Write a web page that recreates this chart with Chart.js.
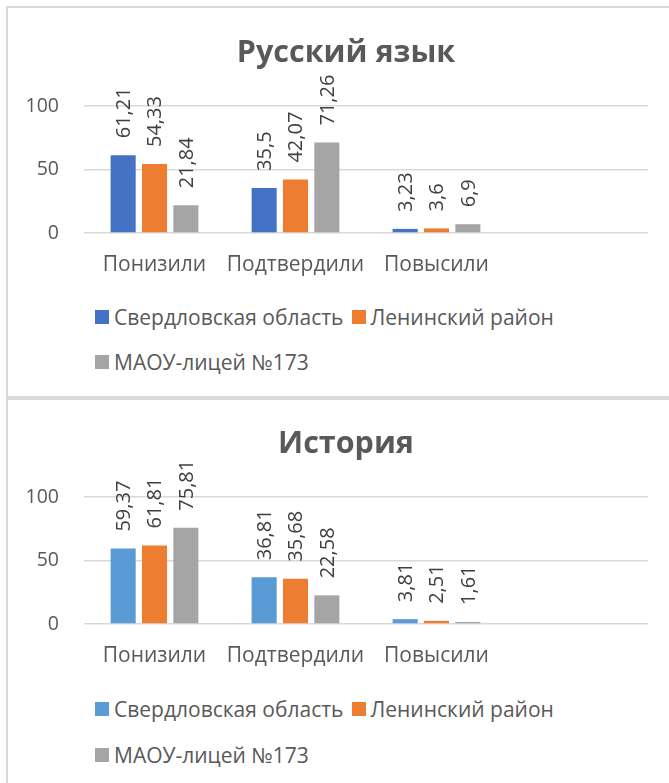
<!DOCTYPE html>
<html><head><meta charset="utf-8">
<script src="https://cdn.jsdelivr.net/npm/chart.js@4/dist/chart.umd.min.js"></script>
<style>
html,body{margin:0;padding:0;background:#fff;width:669px;height:783px;overflow:hidden;position:relative;font-family:'Open Sans',sans-serif;}
.panel{position:absolute;left:6px;width:700px;border:2px solid #d9d9d9;box-sizing:border-box;}
#p1{top:6px;height:392px;}
#p2{top:398px;height:420px;}
canvas{position:absolute;left:0;}
.lrow{position:absolute;left:95px;display:flex;align-items:center;color:#595959;font-size:21px;white-space:nowrap;height:28px;}
.sw{width:14px;height:14px;margin-right:5px;flex:none;}
.lt{margin-right:8px;}
</style></head>
<body>
<div class="panel" id="p1"></div>
<div class="panel" id="p2"></div>
<canvas id="c1" width="669" height="290" style="top:0px"></canvas>
<canvas id="c2" width="669" height="290" style="top:391px"></canvas>
<div class="lrow" id="l1a" style="top:303px"></div>
<div class="lrow" id="l1b" style="top:348px"></div>
<div class="lrow" id="l2a" style="top:695px"></div>
<div class="lrow" id="l2b" style="top:741px"></div>
<script>
const categories = ['Понизили', 'Подтвердили', 'Повысили', ''];
const seriesNames = ['Свердловская область', 'Ленинский район', 'МАОУ-лицей №173'];
const yTicks = [0, 50, 100];

const rusTitle = 'Русский язык';
const rusSverdlovsk = [61.21, 35.5, 3.23, null];
const rusLenin = [54.33, 42.07, 3.6, null];
const rusLyceum = [21.84, 71.26, 6.9, null];

const histTitle = 'История';
const histSverdlovsk = [59.37, 36.81, 3.81, null];
const histLenin = [61.81, 35.68, 2.51, null];
const histLyceum = [75.81, 22.58, 1.61, null];

const FONT = 'Open Sans';
const fmt = v => String(v).replace('.', ',');

const valueLabels = {
  id: 'valueLabels',
  afterLayout(chart) {
    if (chart.titleBlock) chart.titleBlock.left += 44;
  },
  afterDatasetsDraw(chart) {
    const ctx = chart.ctx;
    ctx.save();
    ctx.font = '20px "' + FONT + '"';
    ctx.fillStyle = '#404040';
    ctx.textAlign = 'left';
    ctx.textBaseline = 'middle';
    chart.data.datasets.forEach((ds, i) => {
      const meta = chart.getDatasetMeta(i);
      meta.data.forEach((bar, j) => {
        const v = ds.data[j];
        if (v == null) return;
        ctx.save();
        ctx.translate(bar.x + 1, bar.y - 17);
        ctx.rotate(-Math.PI / 2);
        ctx.fillText(fmt(v), 0, 0);
        ctx.restore();
      });
    });
    ctx.restore();
  }
};

function makeChart(id, title, data, colors) {
  return new Chart(document.getElementById(id), {
    type: 'bar',
    data: {
      labels: categories,
      datasets: data.map((d, i) => ({
        label: seriesNames[i], data: d, backgroundColor: colors[i],
        categoryPercentage: 0.667, barPercentage: 0.8
      }))
    },
    options: {
      responsive: false, animation: false, devicePixelRatio: 1,
      layout: { padding: { left: 0, right: 21, top: 0, bottom: 0 } },
      plugins: {
        legend: { display: false },
        tooltip: { enabled: false },
        title: {
          display: true, text: title, color: '#595959',
          font: { family: FONT, size: 30.5, weight: 'bold', lineHeight: 1.2 },
          padding: { top: 35, bottom: 34.4 }
        }
      },
      scales: {
        x: {
          grid: { display: false, drawTicks: false },
          border: { display: false },
          ticks: { color: '#595959', font: { family: FONT, size: 21 }, padding: 19, maxRotation: 0, autoSkip: false },
          afterFit: s => { s.height = 57; }
        },
        y: {
          min: 0, max: 100,
          afterBuildTicks: s => { s.ticks = yTicks.map(v => ({ value: v })); },
          grid: { color: '#d9d9d9', lineWidth: 1.5, drawTicks: false },
          border: { display: false },
          ticks: { color: '#595959', font: { family: FONT, size: 19.5 }, padding: 25 },
          afterFit: s => { s.width = 84; }
        }
      }
    },
    plugins: [valueLabels]
  });
}

const colors1 = ['#4472C4', '#ED7D31', '#A5A5A5'];
const colors2 = ['#5B9BD5', '#ED7D31', '#A5A5A5'];
makeChart('c1', rusTitle, [rusSverdlovsk, rusLenin, rusLyceum], colors1);
makeChart('c2', histTitle, [histSverdlovsk, histLenin, histLyceum], colors2);

function legend(rowA, rowB, colors) {
  const add = (row, i) => {
    const sw = document.createElement('span'); sw.className = 'sw'; sw.style.background = colors[i];
    const t = document.createElement('span'); t.className = 'lt'; t.textContent = seriesNames[i];
    row.appendChild(sw); row.appendChild(t);
  };
  add(document.getElementById(rowA), 0);
  add(document.getElementById(rowA), 1);
  add(document.getElementById(rowB), 2);
}
legend('l1a', 'l1b', colors1);
legend('l2a', 'l2b', colors2);
</script>
</body></html>
